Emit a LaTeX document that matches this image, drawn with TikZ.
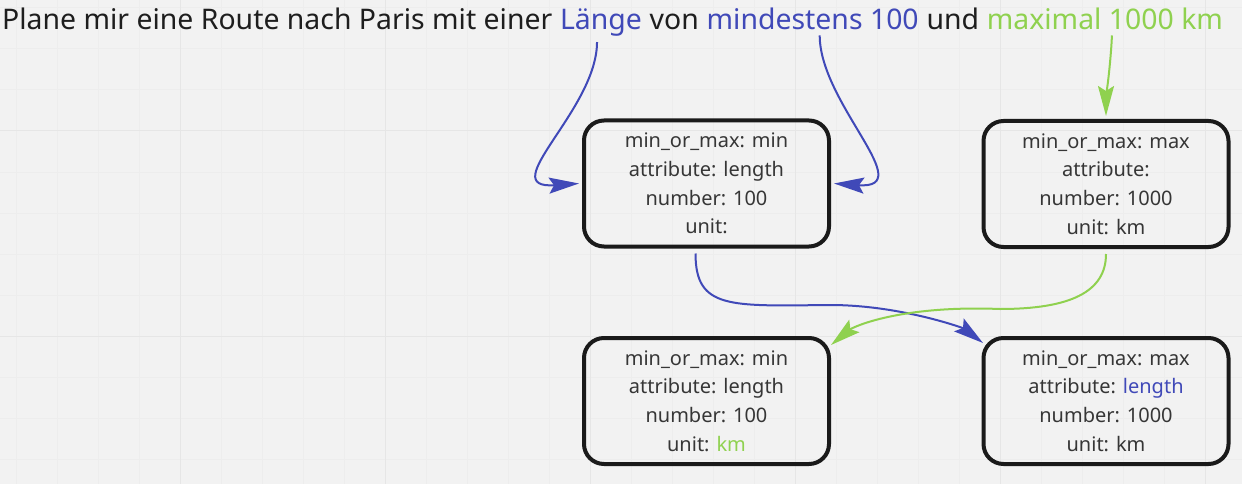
\documentclass[tikz,border=0pt]{standalone}
\usepackage{fontspec}
\setmainfont{Noto Sans}
\usetikzlibrary{arrows.meta,calc}
\definecolor{bg}{HTML}{F2F2F2}
\definecolor{gridminor}{HTML}{EDEDED}
\definecolor{gridmajor}{HTML}{E6E6E6}
\definecolor{ink}{HTML}{1E1E1E}
\definecolor{boxtext}{HTML}{363636}
\definecolor{mblue}{HTML}{4049B8}
\definecolor{mgreen}{HTML}{8FD14F}
\definecolor{boxline}{HTML}{1A1A1A}
\begin{document}
\begin{tikzpicture}[x=1pt,y=-1pt,
  seg/.style={inner sep=0pt, anchor=base west, font=\fontsize{28.4}{34}\selectfont, text=ink},
  card/.style={draw=boxline, line width=4pt, rounded corners=20pt, minimum width=245pt,
    minimum height=126pt, align=center, text=boxtext, font=\fontsize{20}{28.7}\selectfont, inner sep=0pt},
  conn/.style={line width=2pt, -{Stealth[length=30pt,width=16pt,inset=5pt]}},
]
\fill[bg] (0,0) rectangle (1242,484);
\useasboundingbox (0,0) rectangle (1242,484);
% grid
\foreach \i in {0,...,30} {
  \draw[gridminor, line width=1pt] ({16+41*\i},0) -- ({16+41*\i},484);
}
\foreach \j in {0,...,11} {
  \draw[gridminor, line width=1pt] (0,{8+41*\j}) -- (1242,{8+41*\j});
}
\foreach \i in {0,...,5} {
  \draw[gridmajor, line width=1pt] ({180+205*\i},0) -- ({180+205*\i},484);
}
\foreach \j in {0,1} {
  \draw[gridmajor, line width=1pt] (0,{131+205*\j}) -- (1242,{131+205*\j});
}
% title
\node[seg] (t1) at (2,30) {Plane mir eine Route nach Paris mit einer\ \null};
\node[seg, text=mblue] (lange) at (t1.base east) {Länge};
\node[seg] (t2) at (lange.base east) {\ von\ \null};
\node[seg, text=mblue] (mind) at (t2.base east) {mindestens 100};
\node[seg] (t3) at (mind.base east) {\ und\ \null};
\node[seg, text=mgreen] (maxi) at (t3.base east) {maximal 1000 km};
% cards
\node[card] (b1) at (706.5,183.5) {min\_or\_max: min\\attribute: length\\number: 100\\unit:};
\node[card] (b2) at (1106,184) {min\_or\_max: max\\attribute:\\number: 1000\\unit: km};
\node[card] (b3) at (706.5,401) {min\_or\_max: min\\attribute: length\\number: 100\\unit: \textcolor{mgreen}{km}};
\node[card] (b4) at (1106,401) {min\_or\_max: max\\attribute: \textcolor{mblue}{length}\\number: 1000\\unit: km};
% waypoints
\coordinate (s1) at ($(lange.south)+(-4,5)$);
\coordinate (e1) at ($(b1.west)+(-3,0)$);
\coordinate (s2) at ($(mind.south)+(7,5)$);
\coordinate (e2) at ($(b1.east)+(3,0)$);
\coordinate (s3) at ($(maxi.south)+(7,5)$);
\coordinate (e3) at ($(b2.north)+(0,-3)$);
\coordinate (s4) at ($(b1.south)+(-11,5)$);
\coordinate (v1) at (830,305);
\coordinate (e4) at ($(b4.north west)+(1.5,7)$);
\coordinate (s5) at ($(b2.south)+(0,5)$);
\coordinate (v2) at (1000,309);
\coordinate (e5) at ($(b3.north east)+(0,9)$);
% connectors
\draw[conn, mblue] (s1) .. controls ($(s1)+(0,68)$) and ($(e1)+(-86,6)$) .. (e1);
\draw[conn, mblue] (s2) .. controls ($(s2)+(0,68)$) and ($(e2)+(86,6)$) .. (e2);
\draw[conn, mblue] (s4) .. controls ($(s4)+(0,56)$) and ($(v1)+(-100,1)$) .. (v1)
   .. controls ($(v1)+(70,0)$) and ($(e4)+(-20,-15)$) .. (e4);
\draw[conn, mgreen] (s3) .. controls ($(s3)+(-1,25)$) and ($(e3)+(0,-15)$) .. (e3);
\draw[conn, mgreen] (s5) .. controls ($(s5)+(0,38)$) and ($(v2)+(70,0)$) .. (v2)
   .. controls ($(v2)+(-100,-4)$) and ($(e5)+(22,-18)$) .. (e5);
\end{tikzpicture}
\end{document}
